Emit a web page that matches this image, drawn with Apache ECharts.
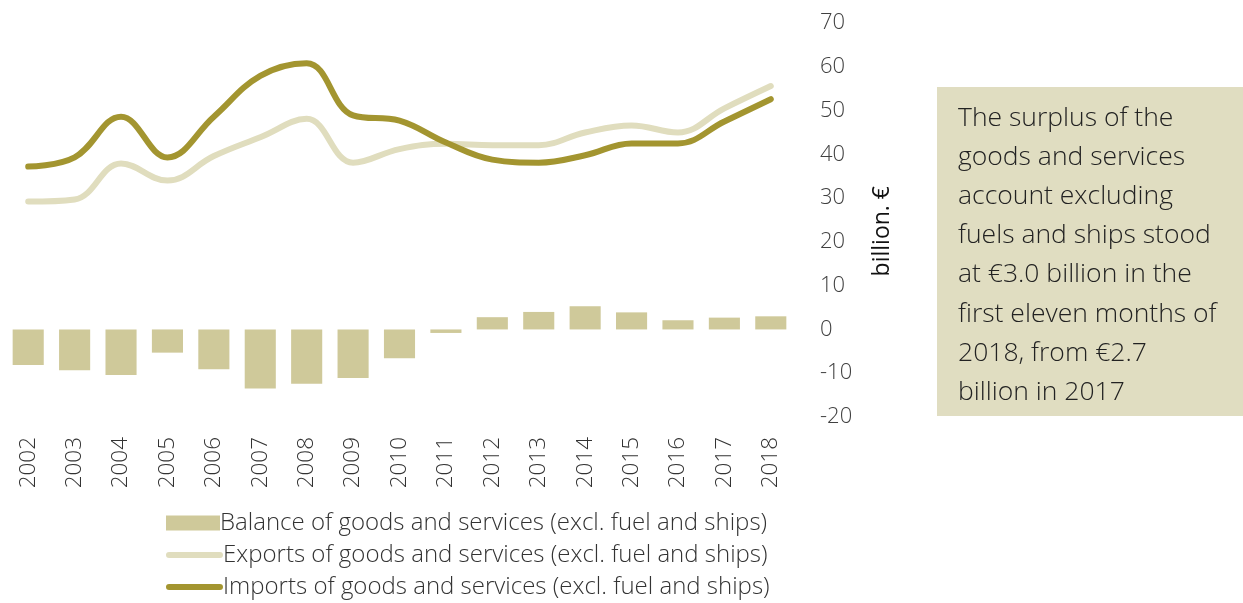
<!DOCTYPE html>
<html>
<head>
<meta charset="utf-8">
<style>
  html, body { margin: 0; padding: 0; background: #ffffff; }
  #chart { width: 1243px; height: 603px; }
</style>
<script src="https://cdn.jsdelivr.net/npm/echarts@6/dist/echarts.min.js"></script>
</head>
<body>
<div id="chart"></div>
<script>
// Years on the category axis
const years = ['2002','2003','2004','2005','2006','2007','2008','2009','2010',
               '2011','2012','2013','2014','2015','2016','2017','2018'];

// Balance of goods and services (excl. fuel and ships), billion €
const balance = [-8.1, -9.3, -10.4, -5.3, -9.1, -13.5, -12.4, -11.1, -6.6,
                 -0.8, 2.8, 4.0, 5.3, 3.9, 2.1, 2.7, 3.0];

// Exports of goods and services (excl. fuel and ships), billion €
const exportsVals = [29.2, 29.7, 37.9, 34.0, 39.6, 43.9, 48.1, 38.1, 41.2,
                     42.4, 42.1, 42.1, 45.0, 46.6, 45.0, 50.5, 55.6];

// Imports of goods and services (excl. fuel and ships), billion €
const importsVals = [37.2, 39.3, 48.6, 39.3, 48.6, 57.9, 60.8, 48.9, 47.7,
                     42.7, 38.8, 38.1, 39.8, 42.5, 42.5, 47.5, 52.6];

const seriesNames = [
  'Balance of goods and services (excl. fuel and ships)',
  'Exports of goods and services (excl. fuel and ships)',
  'Imports of goods and services (excl. fuel and ships)'
];

const noteLines = [
  'The surplus of the',
  'goods and services',
  'account excluding',
  'fuels and ships stood',
  'at €3.0 billion in the',
  'first eleven months of',
  '2018, from €2.7',
  'billion in 2017'
];

const FONT = '"Open Sans", "DejaVu Sans", sans-serif';
const COLORS = { balance: '#cfc99a', exports: '#e0ddbe', imports: '#a39530' };

// capsule-shaped key for the line series
const capsule = 'path://M3,0 L53,0 A3,3 0 0 1 53,6 L3,6 A3,3 0 0 1 3,0 Z';

const legendText = { fontFamily: FONT, fontWeight: 300, fontSize: 24, color: '#333333', padding: [0, 0, 0, -5] };

function legendRow(name, top, icon, w, h) {
  return {
    left: 161,
    top: top,
    itemWidth: w,
    itemHeight: h,
    icon: icon,
    textStyle: legendText,
    data: [name]
  };
}

const chart = echarts.init(document.getElementById('chart'), null, { renderer: 'canvas' });

chart.setOption({
  backgroundColor: '#ffffff',
  animation: false,
  textStyle: { fontFamily: FONT },
  grid: { left: 5, right: 449, top: 23, bottom: 186, containLabel: false },
  legend: [
    legendRow(seriesNames[0], 506, 'rect', 54, 15),
    legendRow(seriesNames[1], 538, capsule, 57, 7),
    legendRow(seriesNames[2], 570, capsule, 57, 7)
  ],
  xAxis: {
    type: 'category',
    data: years,
    axisLine: { show: false },
    axisTick: { show: false },
    axisLabel: {
      rotate: 90,
      margin: 20,
      fontFamily: FONT,
      fontWeight: 300,
      fontSize: 22.5,
      color: '#333333'
    }
  },
  yAxis: {
    type: 'value',
    position: 'right',
    min: -20,
    max: 70,
    interval: 10,
    splitLine: { show: false },
    axisLine: { show: false },
    axisTick: { show: false },
    axisLabel: {
      margin: 26,
      fontFamily: FONT,
      fontWeight: 300,
      fontSize: 22,
      color: '#404040'
    }
  },
  graphic: [
    {
      type: 'text',
      left: 871,
      top: 186,
      rotation: Math.PI / 2,
      style: {
        text: 'billion. €',
        font: '400 23px ' + FONT,
        fill: '#111111'
      }
    },
    {
      type: 'rect',
      left: 937,
      top: 87,
      shape: { width: 306, height: 329 },
      style: { fill: '#e0ddc1' }
    },
    {
      type: 'text',
      left: 958,
      top: 99,
      style: {
        text: noteLines.join('\n'),
        font: '300 26.5px ' + FONT,
        lineHeight: 39.1,
        fill: '#222222'
      }
    }
  ],
  series: [
    {
      name: seriesNames[0],
      type: 'bar',
      data: balance,
      barCategoryGap: '33%',
      itemStyle: { color: COLORS.balance },
      z: 1
    },
    {
      name: seriesNames[1],
      type: 'line',
      data: exportsVals,
      smooth: 0.4,
      symbol: 'none',
      lineStyle: { color: COLORS.exports, width: 6, cap: 'round' },
      itemStyle: { color: COLORS.exports },
      z: 2
    },
    {
      name: seriesNames[2],
      type: 'line',
      data: importsVals,
      smooth: 0.4,
      symbol: 'none',
      lineStyle: { color: COLORS.imports, width: 6, cap: 'round' },
      itemStyle: { color: COLORS.imports },
      z: 3
    }
  ]
});
</script>
</body>
</html>
